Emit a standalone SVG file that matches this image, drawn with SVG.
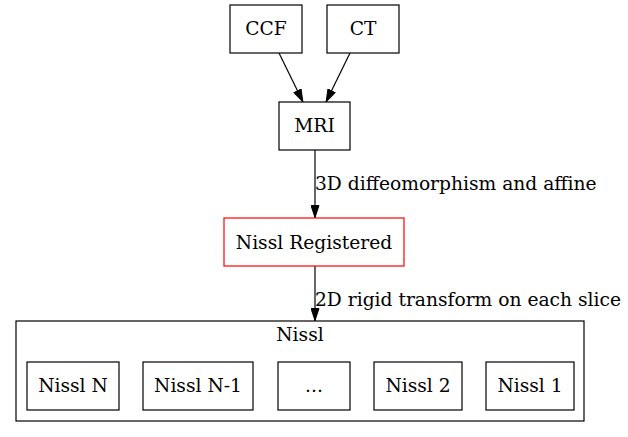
<svg xmlns="http://www.w3.org/2000/svg" width="628" height="437" viewBox="0 0 628 437">
<style>
text{font-family:"DejaVu Serif","Liberation Serif",serif;font-size:18.67px;fill:#000}
.n{fill:#fff;stroke:#000;stroke-width:1.2}
.m{text-anchor:middle}
.e{stroke:#000;stroke-width:1.2;fill:none}
</style>
<defs>
<marker id="a" viewBox="0 0 13 9" refX="13" refY="4.5" markerWidth="13" markerHeight="9" markerUnits="userSpaceOnUse" orient="auto">
<path d="M0.5,0.5L12.5,4.5L0.5,8.5Z" fill="#000" stroke="#000"/>
</marker>
</defs>
<rect width="628" height="437" fill="#fff"/>
<g id="cluster_nissl">
<rect x="16" y="321" width="568" height="100" fill="none" stroke="#000" stroke-width="1.2"/>
<text class="m" x="300" y="341">Nissl</text>
</g>
<g id="connectors">
<path class="e" d="M279,53L303,102" marker-end="url(#a)"/>
<path class="e" d="M350,53L326,102" marker-end="url(#a)"/>
<path class="e" d="M315,150L315,218" marker-end="url(#a)"/>
<text x="315" y="190">3D diffeomorphism and affine</text>
<path class="e" d="M315,266L315,321" marker-end="url(#a)"/>
<text x="315" y="306">2D rigid transform on each slice</text>
</g>
<g id="CCF"><rect class="n" x="230" y="5" width="72" height="48"/><text class="m" x="266" y="35">CCF</text></g>
<g id="CT"><rect class="n" x="327" y="5" width="72" height="48"/><text class="m" x="363" y="35">CT</text></g>
<g id="MRI"><rect class="n" x="279" y="102" width="71" height="48"/><text class="m" x="314.5" y="132">MRI</text></g>
<g id="NisslRegistered"><rect x="224" y="218" width="180" height="48" fill="#fff" stroke="#f00" stroke-width="1.2"/><text class="m" x="314" y="249">Nissl Registered</text></g>
<g id="NisslN"><rect class="n" x="27" y="362" width="92" height="48"/><text class="m" x="73" y="392">Nissl N</text></g>
<g id="NisslN1"><rect class="n" x="143" y="362" width="110" height="48"/><text class="m" x="198" y="392">Nissl N-1</text></g>
<g id="dots"><rect class="n" x="278" y="362" width="72" height="48"/><text class="m" x="314" y="392">...</text></g>
<g id="Nissl2"><rect class="n" x="374" y="362" width="88" height="48"/><text class="m" x="418" y="392">Nissl 2</text></g>
<g id="Nissl1"><rect class="n" x="486" y="362" width="88" height="48"/><text class="m" x="530" y="392">Nissl 1</text></g>
</svg>
